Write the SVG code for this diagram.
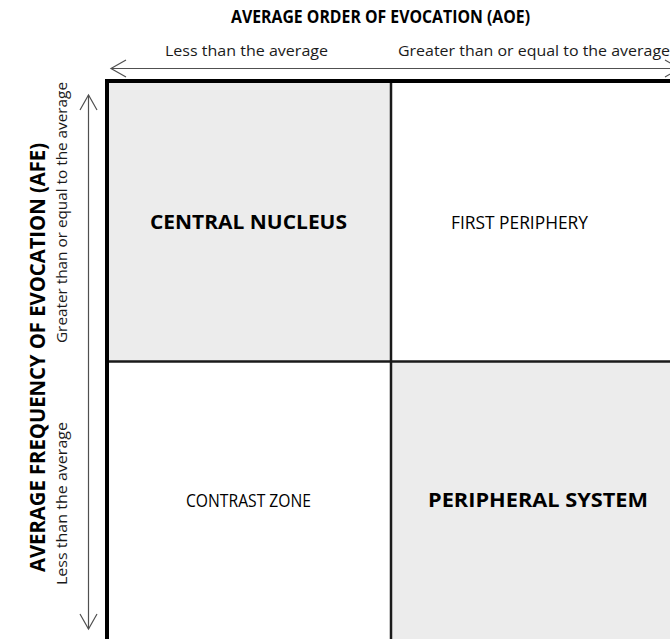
<svg xmlns="http://www.w3.org/2000/svg" width="670" height="639" viewBox="0 0 670 639">
<style>
.t{font-family:"Open Sans","Noto Sans","Liberation Sans",sans-serif;fill:#000}
.b{font-weight:bold}
.s{font-size:14.5px;fill:#1a1a1a}
.q{font-size:19px}
.ax{stroke:#505050;stroke-width:1.2;fill:none}
.grey{fill:#ececec}
</style>
<g id="axis-top">
<text class="t b" x="380.5" y="23" font-size="17.5" text-anchor="middle" textLength="299" lengthAdjust="spacingAndGlyphs">AVERAGE ORDER OF EVOCATION (AOE)</text>
<text class="t s" x="246.5" y="56" text-anchor="middle" textLength="163" lengthAdjust="spacingAndGlyphs">Less than the average</text>
<text class="t s" x="534" y="56" text-anchor="middle" textLength="272" lengthAdjust="spacingAndGlyphs">Greater than or equal to the average</text>
</g>
<g id="axis-left">
<text class="t b" transform="translate(45,357.5) rotate(-90)" x="0" y="0" font-size="21" text-anchor="middle" textLength="429" lengthAdjust="spacingAndGlyphs">AVERAGE FREQUENCY OF EVOCATION (AFE)</text>
<text class="t s" transform="translate(67,212.5) rotate(-90)" x="0" y="0" text-anchor="middle" textLength="261" lengthAdjust="spacingAndGlyphs">Greater than or equal to the average</text>
<text class="t s" transform="translate(67,503.5) rotate(-90)" x="0" y="0" text-anchor="middle" textLength="163" lengthAdjust="spacingAndGlyphs">Less than the average</text>
</g>
<g id="connectors">
<line class="ax" x1="111" y1="68.5" x2="680" y2="68.5"/>
<polyline class="ax" points="126,60 111,68.5 126,77"/>
<polyline class="ax" points="665,60 680,68.5 665,77"/>
<line class="ax" x1="88.5" y1="95" x2="88.5" y2="629" stroke-width="1.5"/>
<polyline class="ax" points="80,110 88.5,95 97,110"/>
<polyline class="ax" points="80,614 88.5,629 97,614"/>
</g>
<g id="central-nucleus">
<rect class="grey" x="107" y="81" width="284" height="280"/>
<text class="t b q" x="248.5" y="229" text-anchor="middle" textLength="197" lengthAdjust="spacingAndGlyphs">CENTRAL NUCLEUS</text>
</g>
<g id="first-periphery">
<text class="t q" x="519.5" y="229" text-anchor="middle" textLength="137" lengthAdjust="spacingAndGlyphs">FIRST PERIPHERY</text>
</g>
<g id="contrast-zone">
<text class="t q" x="248.5" y="507" text-anchor="middle" textLength="125" lengthAdjust="spacingAndGlyphs">CONTRAST ZONE</text>
</g>
<g id="peripheral-system">
<rect class="grey" x="391" y="361" width="300" height="300"/>
<text class="t b q" x="538" y="507" text-anchor="middle" textLength="220" lengthAdjust="spacingAndGlyphs">PERIPHERAL SYSTEM</text>
</g>
<g id="grid">
<line x1="391" y1="81" x2="391" y2="639" stroke="#1a1a1a" stroke-width="2.5"/>
<line x1="107" y1="361.5" x2="680" y2="361.5" stroke="#1a1a1a" stroke-width="2.5"/>
<rect x="107" y="81" width="600" height="600" fill="none" stroke="#000" stroke-width="4"/>
</g>
</svg>
